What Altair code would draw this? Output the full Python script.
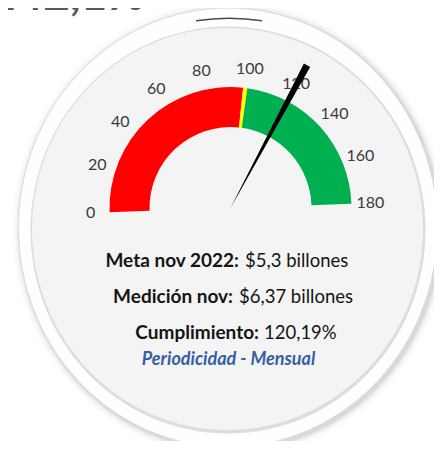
import math
import altair as alt
import pandas as pd

# ---------------- data ----------------
band_start = [0, 98, 100]
band_end = [98, 100, 180]
band_color = ["#FF0000", "#FFFF00", "#00B050"]
tick_values = [0, 20, 40, 60, 80, 100, 120, 140, 160, 180]
tick_labels = ["0", "20", "40", "60", "80", "100", "120", "140", "160", "180"]
needle_value = [120.19]
headline = ["142,1%"]
line_bold = ["Meta nov 2022:", "Medición nov:", "Cumplimiento:"]
line_regular = ["$5,3 billones", "$6,37 billones", "120,19%"]
footer = ["Periodicidad - Mensual"]

# ---------------- layout / style ----------------
W, H = 426, 433
CX, CY = 222.5, 200          # gauge centre (chart px)
TILT = math.radians(2)
FONT = "Lato"
theta_scale = alt.Scale(domain=[0, 180],
                        range=[-math.pi / 2 - TILT, math.pi / 2 - TILT])


def ellipse_path(ratio):
    k = 0.5523
    a, b = 1.0, ratio
    return (f"M {a},0 C {a},{k*b} {k*a},{b} 0,{b} "
            f"C {-k*a},{b} {-a},{k*b} {-a},0 "
            f"C {-a},{-k*b} {-k*a},{-b} 0,{-b} "
            f"C {k*a},{-b} {a},{-k*b} {a},0 Z")


one = pd.DataFrame({"k": [0]})


def ellipse(cx, cy, rx, ry, fill, stroke=None, sw=0, opacity=1.0):
    kw = dict(shape=ellipse_path(ry / rx), size=(2 * rx) ** 2,
              filled=True, fill=fill, opacity=opacity, strokeWidth=sw)
    if stroke:
        kw["stroke"] = stroke
    return alt.Chart(one).mark_point(**kw).encode(x=alt.value(cx), y=alt.value(cy))


RCX, RCY, RX, RY = 220, 219.5, 209.5, 219.5
layers = []
# soft shadow
for grow, op in [(8, 0.02), (5, 0.03), (3, 0.045), (1.5, 0.06)]:
    layers.append(ellipse(RCX + 2, RCY + 2, RX + grow, RY + grow, "#000000", opacity=op))
# rim
layers.append(ellipse(RCX, RCY, RX, RY, "#FEFEFE", stroke="#DADADA", sw=1))
# face shadow ring + face
layers.append(ellipse(RCX, RCY + 2.5, 197.5, 203.5, "#D4D4D4", opacity=0.8))
layers.append(ellipse(RCX - 0.5, RCY + 1.5, 195.5, 201, "#F4F4F4"))

# dark highlight on the top of the rim (in gauge units: 83..101 -> about -9deg..+9deg)
hl = pd.DataFrame({"a": [83.0], "b": [101.0]})
layers.append(
    alt.Chart(hl).mark_arc(x=RCX + 1, y=RCY + 1.5, radius=211.5, radius2=210, color="#4A4A4A")
    .encode(theta=alt.Theta("a:Q", scale=theta_scale, stack=False), theta2="b:Q")
)

# gauge bands
bands = pd.DataFrame({"start": band_start, "end": band_end, "color": band_color})
layers.append(
    alt.Chart(bands).mark_arc(x=CX, y=CY, radius=121, radius2=81)
    .encode(theta=alt.Theta("start:Q", scale=theta_scale, stack=False),
            theta2="end:Q",
            color=alt.Color("color:N", scale=None))
)

# tick labels
ticks = pd.DataFrame({"v": tick_values, "label": tick_labels})
layers.append(
    alt.Chart(ticks).mark_text(x=CX, y=CY, radius=140, font=FONT, fontSize=16,
                               color="#3A3A3A", align="center", baseline="middle")
    .encode(theta=alt.Theta("v:Q", scale=theta_scale, stack=False), text="label:N")
)

# needle
needle = pd.DataFrame({"v": needle_value})
layers.append(
    alt.Chart(needle).transform_calculate(a="datum.v - 1.25", b="datum.v + 1.25")
    .mark_arc(x=CX, y=CY, radius=162, radius2=0, color="#000000")
    .encode(theta=alt.Theta("a:Q", scale=theta_scale, stack=False), theta2="b:Q")
)

# headline (cut at top)
layers.append(
    alt.Chart(pd.DataFrame({"t": headline})).mark_text(
        x=137, y=2, align="right", baseline="alphabetic", font=FONT,
        fontSize=46, fontWeight="bold", color="#595959")
    .encode(text="t:N")
)

# info lines
baselines = [259, 295, 331]
split_bold = [231, 225, 251]
split_reg = [237, 231, 256]
for i in range(3):
    layers.append(
        alt.Chart(pd.DataFrame({"t": [line_bold[i]]})).mark_text(
            x=split_bold[i], y=baselines[i], align="right", baseline="alphabetic",
            font=FONT, fontSize=19, fontWeight="bold", color="#151515")
        .encode(text="t:N")
    )
    layers.append(
        alt.Chart(pd.DataFrame({"t": [line_regular[i]]})).mark_text(
            x=split_reg[i], y=baselines[i], align="left", baseline="alphabetic",
            font=FONT, fontSize=18.5, color="#151515")
        .encode(text="t:N")
    )

layers.append(
    alt.Chart(pd.DataFrame({"t": footer})).mark_text(
        x=220.5, y=357, align="center", baseline="alphabetic", font=FONT,
        fontSize=18, fontWeight="bold", fontStyle="italic", color="#3560A3")
    .encode(text="t:N")
)

chart = (
    alt.layer(*layers)
    .properties(width=W, height=H, padding=0, autosize="none", background="#FFFFFF")
    .configure_view(strokeWidth=0)
)

chart.save("out.html", embed_options={"renderer": "svg", "actions": False})
